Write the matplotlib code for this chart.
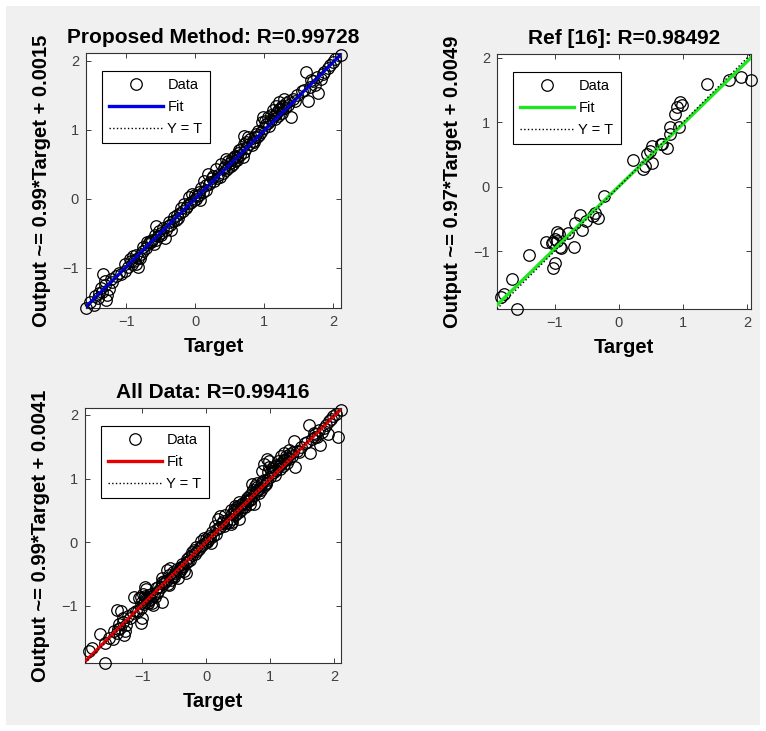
import matplotlib
matplotlib.use('Agg')
import matplotlib.pyplot as plt
from matplotlib.patches import Rectangle

plt.rcParams['font.family'] = ['Liberation Sans', 'DejaVu Sans']

# Proposed method: (target, output) pairs
prop_target = [-1.58, -1.46, -1.52, -1.40, -1.39, -1.36, -1.31, -1.29, -1.27, -1.34,
               -1.22, -1.30, -1.25, -1.20, -1.10, -1.07, -1.02, -0.95, -0.92, -0.90,
               -0.88, -0.85, -0.83, -0.83, -0.80, -0.78, -0.75, -0.71, -0.68, -0.66,
               -0.57, -0.62, -0.58, -0.56, -0.54, -0.52, -0.49, -0.46, -0.44, -0.42,
               -0.40, -0.36, -0.32, -0.30, -0.27, -0.25, -0.22, -0.20, -0.17, -0.16,
               -0.12, -0.09, -0.06, -0.04, -0.02, 0.01, 0.03, 0.05, 0.07, 0.09,
               0.11, 0.13, 0.16, 0.18, 0.21, 0.24, 0.27, 0.30, 0.33, 0.36,
               0.38, 0.41, 0.45, 0.47, 0.50, 0.53, 0.55, 0.57, 0.60, 0.62,
               0.65, 0.67, 0.69, 0.71, 0.71, 0.74, 0.76, 0.78, 0.80, 0.83,
               0.86, 0.88, 0.91, 0.93, 0.96, 0.98, 1.00, 1.03, 1.05, 1.07,
               1.09, 1.12, 1.14, 1.17, 1.17, 1.19, 1.22, 1.24, 1.27, 1.29,
               1.31, 1.34, 1.39, 1.42, 1.48, 1.55, 1.61, 1.63, 1.66, 1.70,
               1.73, 1.78, 1.82, 1.87, 1.92, 1.99, 2.11, -0.35, 0.45, 0.58,
               1.20, 1.25, -1.02, -0.97, -0.70, -0.60,
               -1.45, -1.35, -1.15, -0.93, -0.86, -0.76, -0.64, -0.50, -0.38, -0.28,
               -0.14, -0.08, 0.00, 0.06, 0.15, 0.20, 0.26, 0.31, 0.40, 0.43,
               0.48, 0.52, 0.56, 0.61, 0.64, 0.70, 0.73, 0.82, 0.85, 0.90,
               0.95, 1.01, 1.06, 1.10, 1.15, 1.21, 1.26, 1.30, 1.36, 1.45,
               1.58, 1.68, 1.76, 1.85, 1.95, 2.03]
prop_output = [-1.58, -1.53, -1.50, -1.43, -1.36, -1.29, -1.19, -1.46, -1.39, -1.09,
               -1.16, -1.25, -1.30, -1.20, -1.08, -1.09, -1.04, -0.87, -0.95, -0.83,
               -0.90, -0.95, -0.85, -0.99, -0.86, -0.80, -0.76, -0.71, -0.66, -0.61,
               -0.40, -0.60, -0.52, -0.59, -0.54, -0.47, -0.49, -0.42, -0.56, -0.45,
               -0.39, -0.38, -0.32, -0.27, -0.23, -0.28, -0.20, -0.13, -0.18, -0.08,
               -0.10, 0.02, -0.04, 0.07, -0.01, 0.00, 0.04, 0.10, -0.02, 0.16,
               0.10, 0.26, 0.20, 0.36, 0.24, 0.30, 0.26, 0.43, 0.35, 0.32,
               0.50, 0.44, 0.57, 0.45, 0.52, 0.58, 0.50, 0.62, 0.60, 0.67,
               0.64, 0.72, 0.60, 0.79, 0.91, 0.74, 0.89, 0.80, 0.86, 0.84,
               0.90, 0.94, 0.98, 0.92, 1.11, 1.18, 1.02, 1.08, 1.18, 1.05,
               1.14, 1.28, 1.20, 1.35, 1.23, 1.26, 1.40, 1.30, 1.33, 1.45,
               1.38, 1.36, 1.18, 1.44, 1.50, 1.56, 1.84, 1.41, 1.62, 1.70,
               1.65, 1.53, 1.74, 1.84, 1.90, 1.98, 2.08, -0.45, 0.42, 0.55,
               1.20, 1.35, -0.95, -0.98, -0.63, -0.65,
               -1.40, -1.35, -1.12, -0.90, -0.82, -0.70, -0.62, -0.52, -0.34, -0.30,
               -0.14, -0.06, 0.05, 0.06, 0.13, 0.22, 0.33, 0.30, 0.37, 0.48,
               0.55, 0.47, 0.60, 0.56, 0.70, 0.68, 0.82, 0.78, 0.82, 0.89,
               0.97, 1.12, 1.10, 1.22, 1.15, 1.30, 1.24, 1.31, 1.42, 1.42,
               1.58, 1.72, 1.76, 1.80, 1.93, 2.02]

# Ref [16]: (target, output) pairs
ref_target = [1.38, 1.71, 1.90, 2.06, 0.95, 0.91, 0.875, 0.98, 0.94, 0.79,
              0.80, 0.75, 0.68, 0.66, 0.51, 0.48, 0.44, 0.51, 0.41, 0.38,
              0.22, -0.23, -0.375, -0.41, -0.32, -0.505, -0.61, -0.69, -0.58, -0.70,
              -0.79, -0.92, -0.96, -0.99, -0.96, -1.05, -1.14, -0.91, -1.00, -1.03,
              -1.40, -1.67, -1.79, -1.83, -1.59, -1.02, -0.94]
ref_output = [1.59, 1.65, 1.70, 1.65, 1.31, 1.23, 1.125, 1.27, 0.93, 0.93,
              0.81, 0.60, 0.67, 0.66, 0.63, 0.55, 0.50, 0.37, 0.32, 0.28,
              0.41, -0.15, -0.41, -0.45, -0.48, -0.54, -0.44, -0.57, -0.68, -0.94,
              -0.72, -0.93, -0.71, -0.81, -0.84, -0.88, -0.86, -0.96, -1.19, -1.27,
              -1.06, -1.44, -1.67, -1.71, -1.90, -0.86, -0.74]

titles = ['Proposed Method: R=0.99728', 'Ref [16]: R=0.98492', 'All Data: R=0.99416']
fit_slope = [0.99, 0.97, 0.99]
fit_offset = [0.0015, 0.0049, 0.0041]
fit_colors = ['#0000e6', '#1ee61e', '#e60000']
ticks = [-1, 0, 1, 2]


def draw_panel(ax, target, output, title, slope, offset, color):
    lo = min(min(target), min(output))
    hi = max(max(target), max(output))
    ax.plot(target, output, 'o', mfc='none', mec='black', ms=8.3, mew=0.9,
            label='Data', clip_on=False, zorder=3)
    ax.plot([lo, hi], [slope * lo + offset, slope * hi + offset], color=color,
            lw=2.4, label='Fit', zorder=4)
    ax.plot([lo, hi], [lo, hi], ':', color='black', lw=1.0, label='Y = T', zorder=5)
    ax.set_xlim(lo, hi)
    ax.set_ylim(lo, hi)
    ax.set_xticks(ticks)
    ax.set_yticks(ticks)
    ax.tick_params(direction='in', top=True, right=True, length=3.5, width=0.7,
                   labelsize=10.5, labelcolor='#404040', color='#404040', pad=5)
    for sp in ax.spines.values():
        sp.set_color('#333333')
        sp.set_linewidth(0.8)
    ax.set_title(title, fontsize=15, fontweight='bold', pad=7)
    ax.set_xlabel('Target', fontsize=14.5, fontweight='bold', labelpad=6)
    ax.set_ylabel('Output ~= %.2f*Target + %.4f' % (slope, offset),
                  fontsize=14.5, fontweight='bold', labelpad=8)
    leg = ax.legend(loc='upper left', bbox_to_anchor=(0.062, 0.93), fontsize=10.5,
                    frameon=True, fancybox=False, edgecolor='black', framealpha=1,
                    handlelength=3.7, handletextpad=0.3, labelspacing=0.55,
                    borderpad=0.5, borderaxespad=0)
    leg.get_frame().set_linewidth(0.8)


fig = plt.figure(figsize=(7.66, 7.31), dpi=100, facecolor='white')
fig.patches.append(Rectangle((6 / 766, 6 / 731), 754 / 766, 719 / 731,
                             transform=fig.transFigure, facecolor='#f0f0f0',
                             edgecolor='none', zorder=-10))

ax1 = fig.add_axes([86 / 766, 1 - 308 / 731, 255 / 766, 255 / 731])
ax2 = fig.add_axes([497 / 766, 1 - 309 / 731, 254 / 766, 255 / 731])
ax3 = fig.add_axes([85 / 766, 1 - 663 / 731, 256 / 766, 255 / 731])

draw_panel(ax1, prop_target, prop_output, titles[0], fit_slope[0], fit_offset[0], fit_colors[0])
draw_panel(ax2, ref_target, ref_output, titles[1], fit_slope[1], fit_offset[1], fit_colors[1])
draw_panel(ax3, prop_target + ref_target, prop_output + ref_output, titles[2],
           fit_slope[2], fit_offset[2], fit_colors[2])

fig.savefig('out.png', dpi=100, facecolor=fig.get_facecolor())
